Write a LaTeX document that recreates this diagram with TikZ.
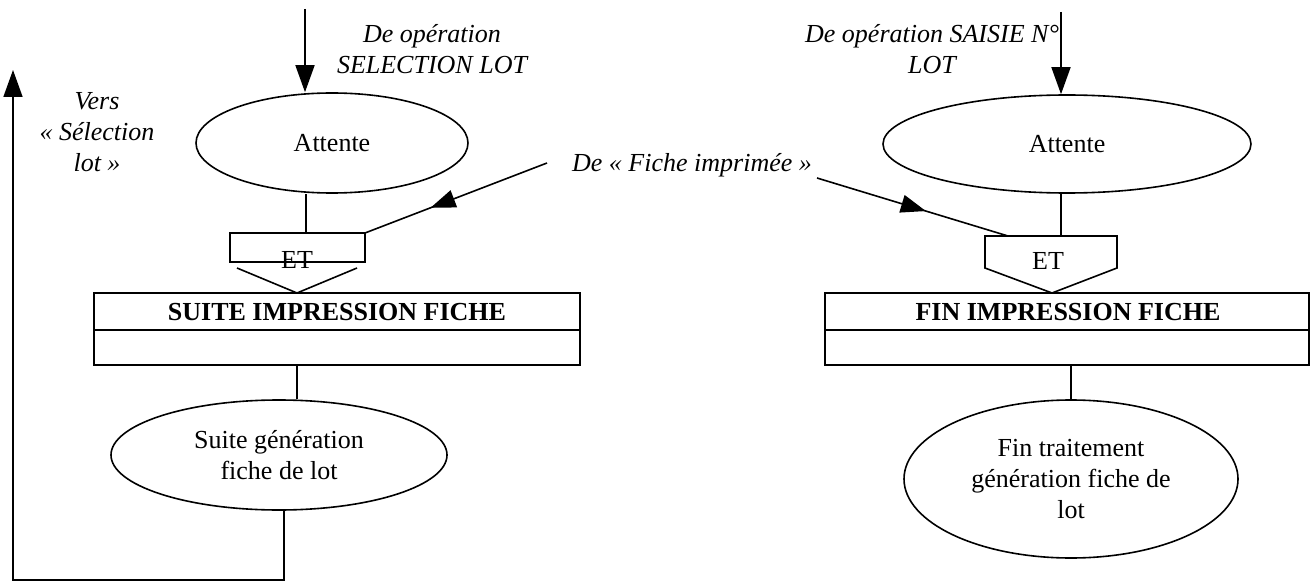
\documentclass[tikz,border=0pt]{standalone}
\usepackage{fontspec}
\setmainfont{Liberation Serif}
\usetikzlibrary{shapes.geometric,arrows.meta,decorations.markings}
\begin{document}
\begin{tikzpicture}[x=1pt,y=-1pt,
  every node/.style={font=\fontsize{26}{31}\selectfont},
  ln/.style={line width=1.6pt},
  arr/.style={ln,-{Triangle[length=27pt,width=19pt]}},
  ell/.style={ellipse,draw,ln,inner sep=0pt,align=center},
  lbl/.style={align=center,font=\fontsize{26}{31}\selectfont\itshape},
  boxtitle/.style={font=\fontsize{26}{31}\selectfont\bfseries},
  framebox/.style={draw,ln,inner sep=0pt,minimum height=72pt},
  midarr/.style={ln,postaction={decorate},decoration={markings,mark=at position #1 with {\arrow{Triangle[length=25pt,width=18pt]}}}},
]
\useasboundingbox (0,0) rectangle (1314,588);

% labels
\node[lbl] (deSel) at (432,49) {De opération\\SELECTION LOT};
\node[lbl] (vers) at (97,132) {Vers\\« Sélection\\lot »};
\node[lbl] (deSaisie) at (932,49) {De opération SAISIE N°\\LOT};
\node[lbl] (deFiche) at (692,165) {De « Fiche imprimée »};

% ellipses
\node[ell,minimum width=272pt,minimum height=100pt] (attL) at (332,143) {Attente};
\node[ell,minimum width=368pt,minimum height=98pt] (attR) at (1067,144) {Attente};
\node[ell,minimum width=336pt,minimum height=110pt] (sgen) at (279,455) {Suite génération\\fiche de lot};
\node[ell,minimum width=334pt,minimum height=158pt] (fgen) at (1071,479) {Fin traitement\\génération fiche de\\lot};

% boxes
\node[framebox,minimum width=486pt] (suite) at (337,329) {};
\draw[ln] (suite.west |- 0,330) -- (suite.east |- 0,330);
\node[boxtitle] (suiteT) at (337,312) {SUITE IMPRESSION FICHE};
\node[framebox,minimum width=484pt] (fin) at (1067,329) {};
\draw[ln] (fin.west |- 0,330) -- (fin.east |- 0,330);
\node[boxtitle] (finT) at (1068,312) {FIN IMPRESSION FICHE};

% ET junctions
\coordinate (etLtl) at (230,233);
\coordinate (etLtr) at (365,233);
\coordinate (etLtop) at (306,233);
\draw[ln] (230,262) -- (etLtl) -- (etLtr) -- (365,262) -- cycle;
\draw[ln] (237,268) -- (297,293) -- (357,268);
\node (etL) at (297,260) {ET};

\coordinate (etRtl) at (985,236);
\coordinate (etRtop) at (1061,236);
\coordinate (etRin) at (1008,236);
\draw[ln] (985,268) -- (etRtl) -- (1117,236) -- (1117,268) -- (1052,293) -- cycle;
\node (etR) at (1048,261) {ET};

% connectors
\coordinate (inL) at (305,9);
\coordinate (inR) at (1061,12);
\draw[arr] (inL) -- (inL |- attL.north);
\draw[arr] (inR) -- (inR |- attR.north);
\draw[ln] (etLtop |- attL.south) -- (etLtop);
\draw[ln] (etRtop |- attR.south) -- (etRtop);

\coordinate (fL) at (547,163);
\coordinate (fRs) at (817,178);
\draw[midarr=0.64] (fL) -- (etLtr);
\draw[midarr=0.57] (fRs) -- (etRin);

\coordinate (sL) at (297,365);
\draw[ln] (sL) -- (sL |- sgen.north);
\coordinate (fR) at (1071,365);
\draw[ln] (fR) -- (fgen.north);

\coordinate (outL) at (284,580);
\coordinate (versTip) at (13,70);
\draw[arr] (outL |- sgen.south) -- (outL) -- (versTip |- outL) -- (versTip);
\end{tikzpicture}
\end{document}
